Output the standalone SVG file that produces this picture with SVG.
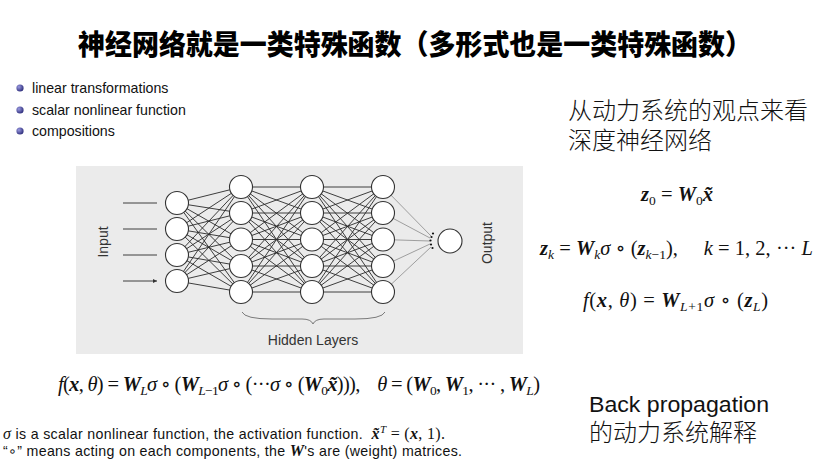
<svg xmlns="http://www.w3.org/2000/svg" width="832" height="468" viewBox="0 0 832 468">
<style>
.title{font-family:"Noto Sans CJK SC","Noto Sans",sans-serif;font-weight:900;font-size:28px;fill:#000}
.cn{font-family:"Noto Sans CJK SC","Noto Sans",sans-serif;font-weight:300;font-size:24px;fill:#111}
.en{font-family:"Liberation Sans","Noto Sans",sans-serif;font-size:22.5px;fill:#111}
.s{font-family:"Liberation Sans","DejaVu Sans",sans-serif;font-size:14.2px;fill:#111}
.lbl{font-family:"Liberation Sans","DejaVu Sans",sans-serif;font-size:14px;fill:#333}
.m{font-family:"Liberation Serif","DejaVu Serif",serif;font-size:20.5px;fill:#111}
.i{font-style:italic}
.b{font-style:italic;font-weight:bold}
.sub{font-size:13.5px}
.node{fill:#fff;stroke:#333;stroke-width:1.1}
.edge{fill:none;stroke:#2a2a2a;stroke-width:0.9}
.edge2{fill:none;stroke:#8a8a8a;stroke-width:0.8}
.bul{fill:url(#bg)}
</style>
<defs>
<radialGradient id="bg" cx="0.35" cy="0.35" r="0.7">
<stop offset="0" stop-color="#9a9ae0"/>
<stop offset="1" stop-color="#2c2c7a"/>
</radialGradient>
<marker id="ah" viewBox="0 0 6 6" refX="6" refY="3" markerWidth="5" markerHeight="5" orient="auto">
<path d="M0 0L6 3L0 6Z" fill="#333"/>
</marker>
</defs>
<rect width="832" height="468" fill="#fff"/>

<text class="title" x="78" y="55" textLength="674" lengthAdjust="spacingAndGlyphs">神经网络就是一类特殊函数（多形式也是一类特殊函数）</text>

<g id="bullets">
<circle class="bul" cx="20" cy="88" r="3.6"/>
<text class="s" x="32" y="93">linear transformations</text>
<circle class="bul" cx="20" cy="110" r="3.6"/>
<text class="s" x="32" y="115">scalar nonlinear function</text>
<circle class="bul" cx="20" cy="131" r="3.6"/>
<text class="s" x="32" y="136">compositions</text>
</g>

<rect x="76" y="166" width="447" height="188" fill="#ebebeb"/>

<g id="connectors">
<path class="edge" d="M177 203L241 187M177 203L241 213M177 203L241 239.5M177 203L241 266M177 203L241 292M177 229L241 187M177 229L241 213M177 229L241 239.5M177 229L241 266M177 229L241 292M177 255L241 187M177 255L241 213M177 255L241 239.5M177 255L241 266M177 255L241 292M177 281L241 187M177 281L241 213M177 281L241 239.5M177 281L241 266M177 281L241 292"/>
<path class="edge" d="M241 187L312 187M241 187L312 213M241 187L312 239.5M241 187L312 266M241 187L312 292M241 213L312 187M241 213L312 213M241 213L312 239.5M241 213L312 266M241 213L312 292M241 239.5L312 187M241 239.5L312 213M241 239.5L312 239.5M241 239.5L312 266M241 239.5L312 292M241 266L312 187M241 266L312 213M241 266L312 239.5M241 266L312 266M241 266L312 292M241 292L312 187M241 292L312 213M241 292L312 239.5M241 292L312 266M241 292L312 292"/>
<path class="edge" d="M312 187L383 187M312 187L383 213M312 187L383 239.5M312 187L383 266M312 187L383 292M312 213L383 187M312 213L383 213M312 213L383 239.5M312 213L383 266M312 213L383 292M312 239.5L383 187M312 239.5L383 213M312 239.5L383 239.5M312 239.5L383 266M312 239.5L383 292M312 266L383 187M312 266L383 213M312 266L383 239.5M312 266L383 266M312 266L383 292M312 292L383 187M312 292L383 213M312 292L383 239.5M312 292L383 266M312 292L383 292"/>
<path class="edge2" d="M383 187L431 236M383 213L430 238M383 239.5L430 241M383 266L430 244M383 292L431 247"/>
<path class="edge" marker-end="url(#ah)" d="M123 203L157 203M123 229L157 229M123 255L157 255M123 281L157 281"/>
<path d="M242 312Q245 319 272 319L302 319Q311 319 313 324Q315 319 324 319L355 319Q382 319 385 312" fill="none" stroke="#7a7a7a" stroke-width="1"/>
</g>

<g id="input-layer">
<circle class="node" cx="177" cy="203" r="11.5"/>
<circle class="node" cx="177" cy="229" r="11.5"/>
<circle class="node" cx="177" cy="255" r="11.5"/>
<circle class="node" cx="177" cy="281" r="11.5"/>
</g>
<g id="hidden-1">
<circle class="node" cx="241" cy="187" r="11.5"/>
<circle class="node" cx="241" cy="213" r="11.5"/>
<circle class="node" cx="241" cy="239.5" r="11.5"/>
<circle class="node" cx="241" cy="266" r="11.5"/>
<circle class="node" cx="241" cy="292" r="11.5"/>
</g>
<g id="hidden-2">
<circle class="node" cx="312" cy="187" r="11.5"/>
<circle class="node" cx="312" cy="213" r="11.5"/>
<circle class="node" cx="312" cy="239.5" r="11.5"/>
<circle class="node" cx="312" cy="266" r="11.5"/>
<circle class="node" cx="312" cy="292" r="11.5"/>
</g>
<g id="hidden-3">
<circle class="node" cx="383" cy="187" r="11.5"/>
<circle class="node" cx="383" cy="213" r="11.5"/>
<circle class="node" cx="383" cy="239.5" r="11.5"/>
<circle class="node" cx="383" cy="266" r="11.5"/>
<circle class="node" cx="383" cy="292" r="11.5"/>
</g>
<g id="output-node">
<g fill="#111">
<circle cx="433" cy="233.5" r="1.1"/><circle cx="431.5" cy="237" r="1.1"/><circle cx="430.5" cy="240.5" r="1.1"/><circle cx="431" cy="244.5" r="1.1"/><circle cx="432.5" cy="248" r="1.1"/>
</g>
<circle class="node" cx="450" cy="241" r="12"/>
</g>
<text class="lbl" transform="translate(108 242) rotate(-90)" text-anchor="middle">Input</text>
<text class="lbl" transform="translate(492 243) rotate(-90)" text-anchor="middle">Output</text>
<text class="lbl" x="313" y="345" text-anchor="middle">Hidden Layers</text>

<text class="cn" x="568" y="119">从动力系统的观点来看</text>
<text class="cn" x="568" y="149">深度神经网络</text>

<text class="m" x="677" y="201" text-anchor="middle"><tspan class="b">z</tspan><tspan class="sub" dy="4">0</tspan><tspan dy="-4">&#160;=&#160;</tspan><tspan class="b">W</tspan><tspan class="sub" dy="4">0</tspan><tspan class="b" dy="-4">x̃</tspan></text>

<text class="m" x="540" y="255" textLength="273" lengthAdjust="spacing"><tspan class="b">z</tspan><tspan class="sub i" dy="4">k</tspan><tspan dy="-4">&#160;=&#160;</tspan><tspan class="b">W</tspan><tspan class="sub i" dy="4">k</tspan><tspan class="i" dy="-4">σ</tspan>&#160;∘&#160;(<tspan class="b">z</tspan><tspan class="sub" dy="4"><tspan class="i">k</tspan>−1</tspan><tspan dy="-4">),&#160;&#160;&#160;&#160;&#160;</tspan><tspan class="i">k</tspan>&#160;=&#160;1,&#160;2,&#160;···&#160;<tspan class="i">L</tspan></text>

<text class="m" x="583" y="307" textLength="185" lengthAdjust="spacing"><tspan class="i">f</tspan>(<tspan class="b">x</tspan>,&#160;<tspan class="i">θ</tspan>)&#160;=&#160;<tspan class="b">W</tspan><tspan class="sub" dy="4"><tspan class="i">L</tspan>+1</tspan><tspan class="i" dy="-4">σ</tspan>&#160;∘&#160;(<tspan class="b">z</tspan><tspan class="sub i" dy="4">L</tspan><tspan dy="-4">)</tspan></text>

<text class="m" x="58" y="391" textLength="482" lengthAdjust="spacing"><tspan class="i">f</tspan>(<tspan class="b">x</tspan>,&#160;<tspan class="i">θ</tspan>)&#160;=&#160;<tspan class="b">W</tspan><tspan class="sub i" dy="4">L</tspan><tspan class="i" dy="-4">σ</tspan>&#160;∘&#160;(<tspan class="b">W</tspan><tspan class="sub" dy="4"><tspan class="i">L</tspan>−1</tspan><tspan class="i" dy="-4">σ</tspan>&#160;∘&#160;(···<tspan class="i">σ</tspan>&#160;∘&#160;(<tspan class="b">W</tspan><tspan class="sub" dy="4">0</tspan><tspan class="b" dy="-4">x̃</tspan>))),&#160;&#160;&#160;&#160;<tspan class="i">θ</tspan>&#160;=&#160;(<tspan class="b">W</tspan><tspan class="sub" dy="4">0</tspan><tspan dy="-4">,&#160;</tspan><tspan class="b">W</tspan><tspan class="sub" dy="4">1</tspan><tspan dy="-4">,&#160;···&#160;,&#160;</tspan><tspan class="b">W</tspan><tspan class="sub i" dy="4">L</tspan><tspan dy="-4">)</tspan></text>

<text class="s" x="3" y="439" textLength="442" lengthAdjust="spacing"><tspan class="i" style="font-family:'Liberation Serif',serif;font-size:16px">σ</tspan> is a scalar nonlinear function, the activation function.&#160; <tspan style="font-family:'Liberation Serif',serif;font-size:16px"><tspan class="b">x̃</tspan><tspan class="i" font-size="11" dy="-6">T</tspan><tspan dy="6">&#160;=&#160;(</tspan><tspan class="b">x</tspan>,&#160;1).</tspan></text>
<text class="s" x="3" y="456" textLength="459" lengthAdjust="spacing">“∘” means acting on each components, the <tspan class="b" style="font-family:'Liberation Serif',serif;font-size:16px">W</tspan>'s are (weight) matrices.</text>

<text class="en" x="589" y="412" textLength="180" lengthAdjust="spacingAndGlyphs">Back propagation</text>
<text class="cn" x="589" y="441">的动力系统解释</text>
</svg>
